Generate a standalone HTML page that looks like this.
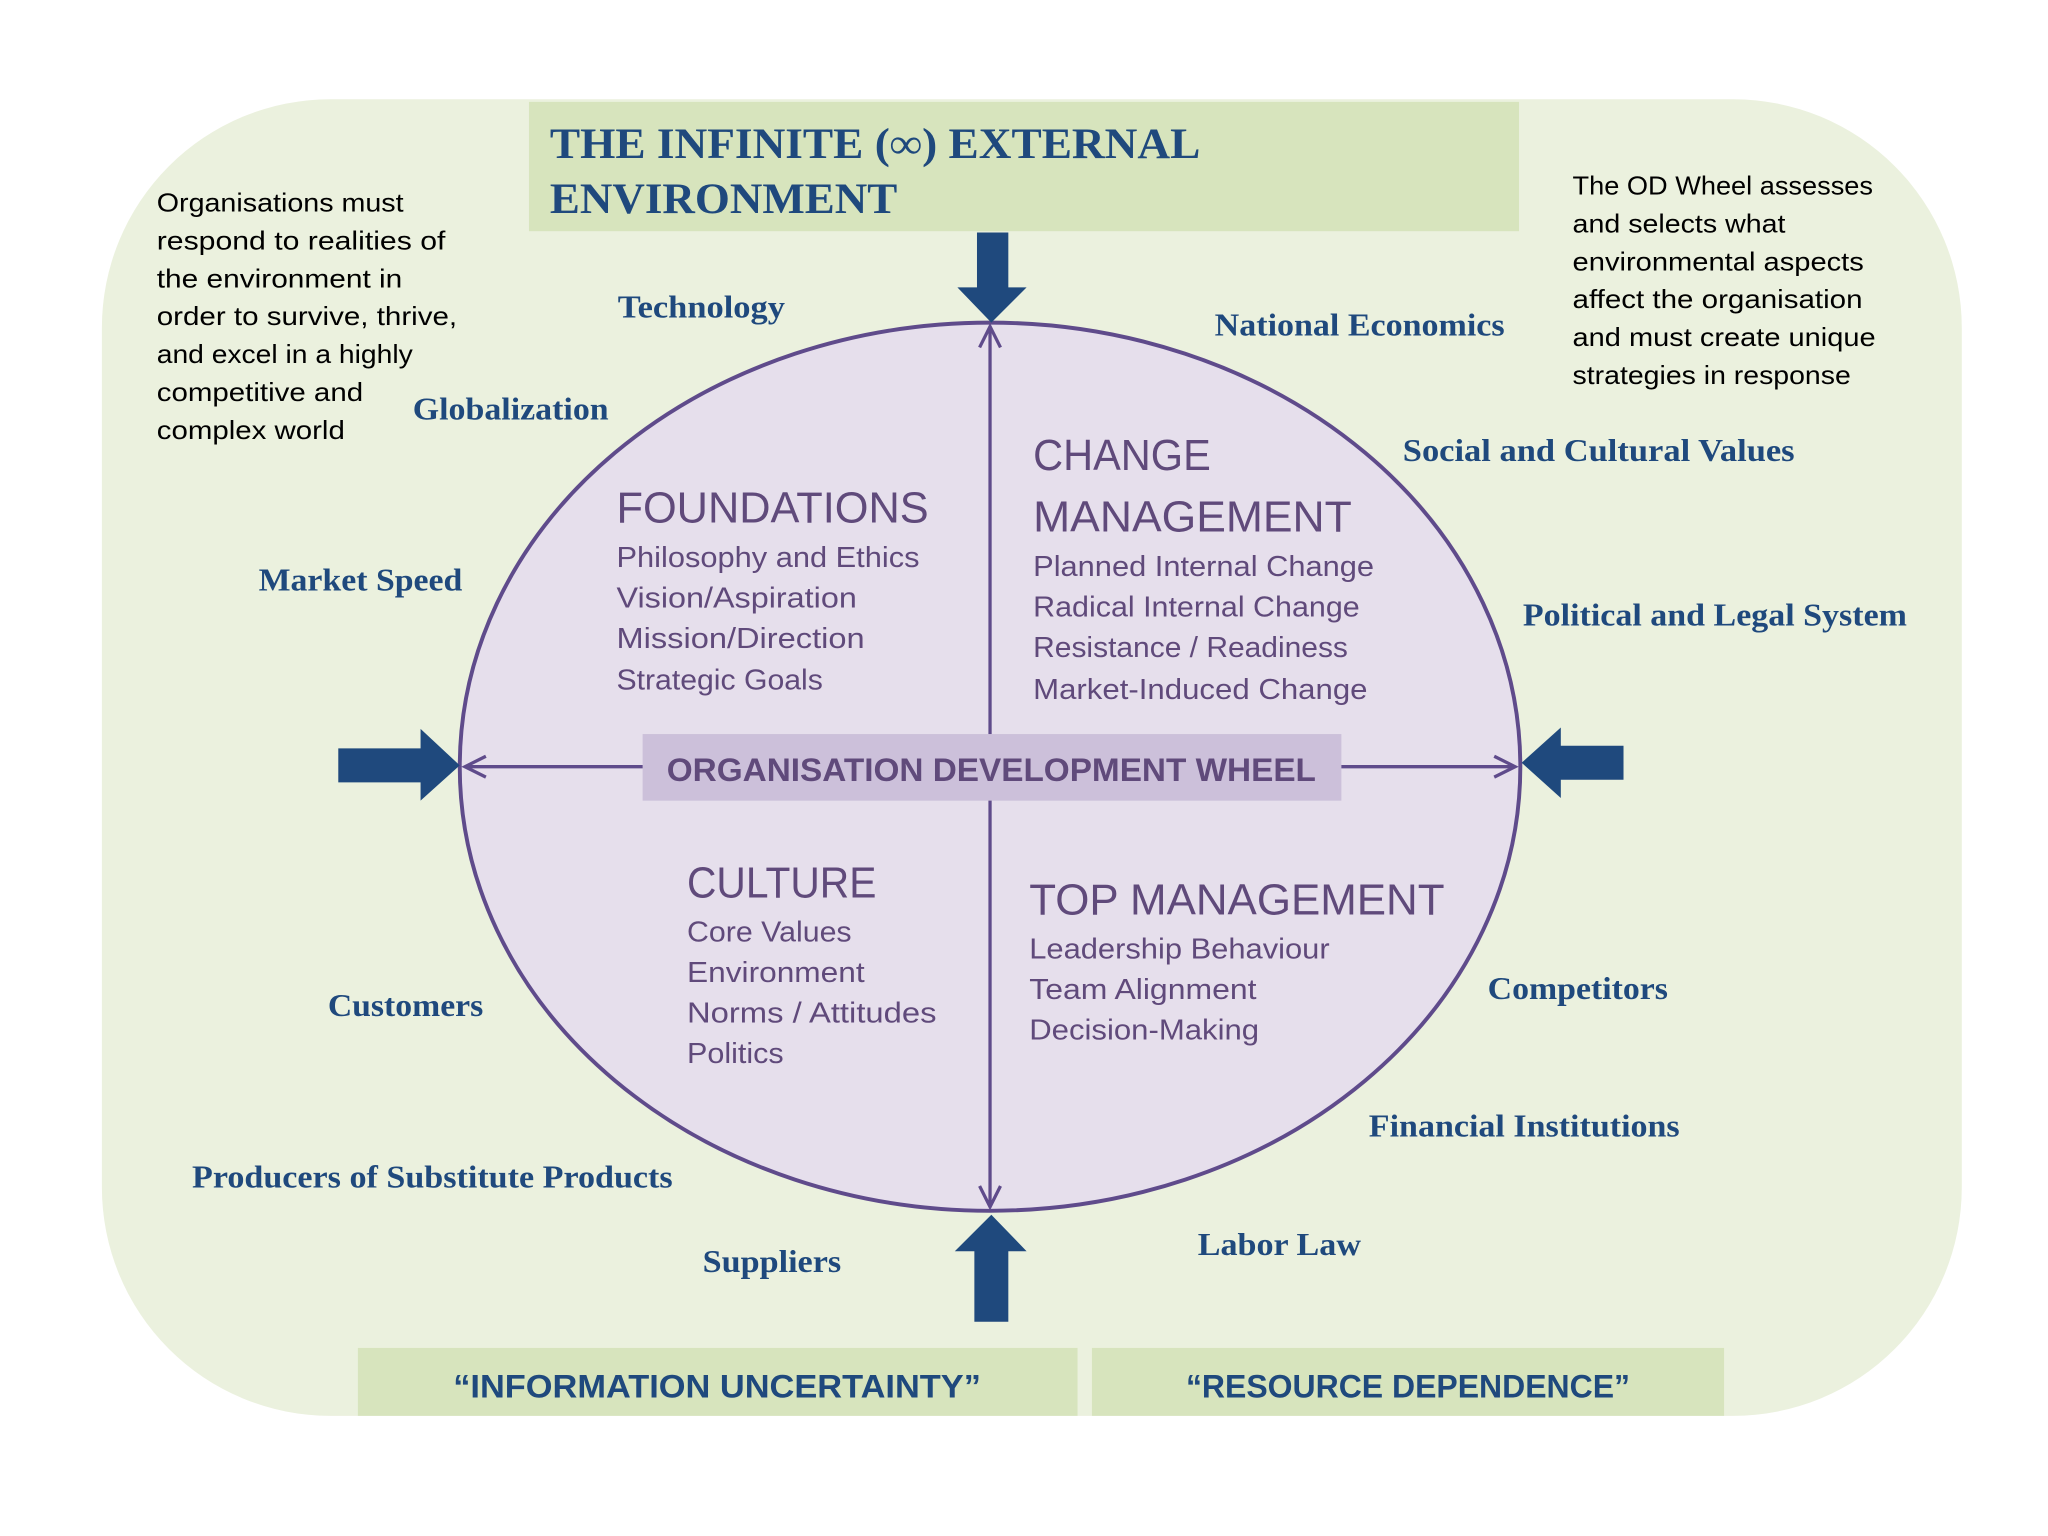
<!DOCTYPE html>
<html><head><meta charset="utf-8"><style>
html,body{margin:0;padding:0;background:#fff;}
svg{display:block;}
.s{font-family:"Liberation Sans",sans-serif;}
.f{font-family:"Liberation Serif",serif;font-weight:bold;fill:#1f497d;}
.q{font-family:"Liberation Sans",sans-serif;fill:#604a7b;}
</style></head><body>
<svg width="2048" height="1536" viewBox="0 0 1568 1176" preserveAspectRatio="none" xmlns="http://www.w3.org/2000/svg">
<rect x="0" y="0" width="1568" height="1176" fill="#fff"/>
<rect x="78" y="76" width="1424" height="1008" rx="175" ry="175" fill="#ebf1de"/>
<rect x="405" y="78" width="758" height="99" fill="#d7e4bd"/>
<text class="f" x="421" y="121" font-size="33" textLength="498" lengthAdjust="spacingAndGlyphs">THE INFINITE (∞) EXTERNAL</text>
<text class="f" x="421" y="163" font-size="33" textLength="266" lengthAdjust="spacingAndGlyphs">ENVIRONMENT</text>

<ellipse cx="758" cy="587" rx="406" ry="340" fill="#e6dfec" stroke="#5f4b8b" stroke-width="3"/>
<g stroke="#5f4b8b" stroke-width="2.5" fill="none">
<line x1="758" y1="252" x2="758" y2="922"/>
<line x1="356" y1="587" x2="1160" y2="587"/>
<polyline points="750,266 758,250 766,266"/>
<polyline points="750,908 758,924 766,908"/>
<polyline points="372,579 356,587 372,595"/>
<polyline points="1144,579 1160,587 1144,595"/>
</g>
<rect x="492" y="562" width="535" height="51" fill="#ccc0da"/>
<text class="s" x="759" y="598" font-size="25" font-weight="bold" fill="#604a7b" text-anchor="middle" textLength="497" lengthAdjust="spacingAndGlyphs">ORGANISATION DEVELOPMENT WHEEL</text>

<g fill="#1f497d">
<polygon points="748,178 772,178 772,220 786,220 759,247 733,220 748,220"/>
<polygon points="746,1012 772,1012 772,958 786,958 759,930 731,958 746,958"/>
<polygon points="259,573 322,573 322,558 352,586 322,613 322,599 259,599"/>
<polygon points="1243,571 1195,571 1195,557 1165,584 1195,611 1195,597 1243,597"/>
</g>

<rect x="274" y="1032" width="551" height="52" fill="#d7e4bd"/>
<rect x="836" y="1032" width="484" height="52" fill="#d7e4bd"/>
<text class="s" x="549" y="1070" font-size="25" font-weight="bold" fill="#1f497d" text-anchor="middle" textLength="404" lengthAdjust="spacingAndGlyphs">“INFORMATION UNCERTAINTY”</text>
<text class="s" x="1078" y="1070" font-size="25" font-weight="bold" fill="#1f497d" text-anchor="middle" textLength="340" lengthAdjust="spacingAndGlyphs">“RESOURCE DEPENDENCE”</text>

<g class="q">
<text x="472" y="400" font-size="33" textLength="239" lengthAdjust="spacingAndGlyphs">FOUNDATIONS</text>
<text x="472" y="434" font-size="22" textLength="232" lengthAdjust="spacingAndGlyphs">Philosophy and Ethics</text>
<text x="472" y="465" font-size="22" textLength="184" lengthAdjust="spacingAndGlyphs">Vision/Aspiration</text>
<text x="472" y="496" font-size="22" textLength="190" lengthAdjust="spacingAndGlyphs">Mission/Direction</text>
<text x="472" y="528" font-size="22" textLength="158" lengthAdjust="spacingAndGlyphs">Strategic Goals</text>

<text x="791" y="360" font-size="33" textLength="136" lengthAdjust="spacingAndGlyphs">CHANGE</text>
<text x="791" y="407" font-size="33" textLength="244" lengthAdjust="spacingAndGlyphs">MANAGEMENT</text>
<text x="791" y="441" font-size="22" textLength="261" lengthAdjust="spacingAndGlyphs">Planned Internal Change</text>
<text x="791" y="472" font-size="22" textLength="250" lengthAdjust="spacingAndGlyphs">Radical Internal Change</text>
<text x="791" y="503" font-size="22" textLength="241" lengthAdjust="spacingAndGlyphs">Resistance / Readiness</text>
<text x="791" y="535" font-size="22" textLength="256" lengthAdjust="spacingAndGlyphs">Market-Induced Change</text>

<text x="526" y="687" font-size="33" textLength="145" lengthAdjust="spacingAndGlyphs">CULTURE</text>
<text x="526" y="721" font-size="22" textLength="126" lengthAdjust="spacingAndGlyphs">Core Values</text>
<text x="526" y="752" font-size="22" textLength="136" lengthAdjust="spacingAndGlyphs">Environment</text>
<text x="526" y="783" font-size="22" textLength="191" lengthAdjust="spacingAndGlyphs">Norms / Attitudes</text>
<text x="526" y="814" font-size="22" textLength="74" lengthAdjust="spacingAndGlyphs">Politics</text>

<text x="788" y="700" font-size="33" textLength="318" lengthAdjust="spacingAndGlyphs">TOP MANAGEMENT</text>
<text x="788" y="734" font-size="22" textLength="230" lengthAdjust="spacingAndGlyphs">Leadership Behaviour</text>
<text x="788" y="765" font-size="22" textLength="174" lengthAdjust="spacingAndGlyphs">Team Alignment</text>
<text x="788" y="796" font-size="22" textLength="176" lengthAdjust="spacingAndGlyphs">Decision-Making</text>
</g>

<g class="f" font-size="24">
<text x="473" y="243" textLength="128" lengthAdjust="spacingAndGlyphs">Technology</text>
<text x="930" y="257" textLength="222" lengthAdjust="spacingAndGlyphs">National Economics</text>
<text x="316" y="321" textLength="150" lengthAdjust="spacingAndGlyphs">Globalization</text>
<text x="1074" y="353" textLength="300" lengthAdjust="spacingAndGlyphs">Social and Cultural Values</text>
<text x="198" y="452" textLength="156" lengthAdjust="spacingAndGlyphs">Market Speed</text>
<text x="1166" y="479" textLength="294" lengthAdjust="spacingAndGlyphs">Political and Legal System</text>
<text x="251" y="778" textLength="119" lengthAdjust="spacingAndGlyphs">Customers</text>
<text x="1139" y="765" textLength="138" lengthAdjust="spacingAndGlyphs">Competitors</text>
<text x="1048" y="870" textLength="238" lengthAdjust="spacingAndGlyphs">Financial Institutions</text>
<text x="147" y="909" textLength="368" lengthAdjust="spacingAndGlyphs">Producers of Substitute Products</text>
<text x="538" y="974" textLength="106" lengthAdjust="spacingAndGlyphs">Suppliers</text>
<text x="917" y="961" textLength="125" lengthAdjust="spacingAndGlyphs">Labor Law</text>
</g>

<g class="s" font-size="20" fill="#000">
<text x="120" y="162" textLength="189" lengthAdjust="spacingAndGlyphs">Organisations must</text>
<text x="120" y="191" textLength="221" lengthAdjust="spacingAndGlyphs">respond to  realities of</text>
<text x="120" y="220" textLength="188" lengthAdjust="spacingAndGlyphs">the environment in</text>
<text x="120" y="249" textLength="230" lengthAdjust="spacingAndGlyphs">order to survive, thrive,</text>
<text x="120" y="278" textLength="196" lengthAdjust="spacingAndGlyphs">and excel in a highly</text>
<text x="120" y="307" textLength="158" lengthAdjust="spacingAndGlyphs">competitive and</text>
<text x="120" y="336" textLength="144" lengthAdjust="spacingAndGlyphs">complex world</text>

<text x="1204" y="149" textLength="230" lengthAdjust="spacingAndGlyphs">The OD Wheel assesses</text>
<text x="1204" y="178" textLength="163" lengthAdjust="spacingAndGlyphs">and selects what</text>
<text x="1204" y="207" textLength="223" lengthAdjust="spacingAndGlyphs">environmental aspects</text>
<text x="1204" y="236" textLength="222" lengthAdjust="spacingAndGlyphs">affect the organisation</text>
<text x="1204" y="265" textLength="232" lengthAdjust="spacingAndGlyphs">and must create unique</text>
<text x="1204" y="294" textLength="213" lengthAdjust="spacingAndGlyphs">strategies in response</text>
</g>
</svg>
</body></html>
